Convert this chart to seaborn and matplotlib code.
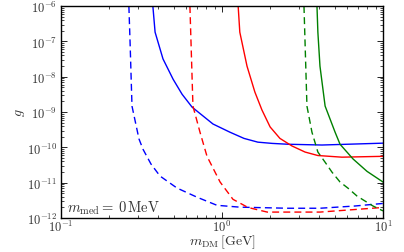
import numpy as np
import pandas as pd
import seaborn as sns
import matplotlib
matplotlib.use("Agg")
import matplotlib.pyplot as plt

# ---- data ----
blue_dash_m = [0.264, 0.269, 0.276, 0.305, 0.323, 0.362, 0.412, 0.525, 0.700, 0.931, 1.29, 2.57, 4.06, 6.70, 10.0]
blue_dash_g = [1e-6, 7.4e-8, 1.48e-9, 1.74e-10, 8.9e-11, 3.4e-11, 1.55e-11, 7.1e-12, 3.9e-12, 2.3e-12, 2.04e-12, 1.9e-12, 1.9e-12, 2.2e-12, 2.6e-12]

blue_solid_m = [0.372, 0.384, 0.430, 0.497, 0.565, 0.652, 0.879, 1.12, 1.37, 1.67, 2.05, 2.57, 4.18, 10.0]
blue_solid_g = [1e-6, 1.83e-7, 3.2e-8, 8.5e-9, 3.2e-9, 1.38e-9, 4.6e-10, 2.7e-10, 1.8e-10, 1.41e-10, 1.3e-10, 1.23e-10, 1.17e-10, 1.32e-10]

red_dash_m = [0.632, 0.660, 0.730, 0.807, 0.973, 1.17, 1.45, 1.91, 4.06, 10.0]
red_dash_g = [1e-6, 1.48e-9, 2.7e-10, 5.6e-11, 1.05e-11, 3.4e-12, 2.0e-12, 1.48e-12, 1.48e-12, 2.0e-12]

red_solid_m = [1.26, 1.29, 1.43, 1.60, 1.77, 1.99, 2.29, 2.72, 3.28, 3.94, 5.56, 10.0]
red_solid_g = [1e-6, 1.83e-7, 2.0e-8, 3.7e-9, 1.15e-9, 3.8e-10, 1.8e-10, 1.1e-10, 7.4e-11, 5.9e-11, 5.3e-11, 5.6e-11]

green_dash_m = [3.23, 3.37, 3.62, 3.94, 4.49, 4.82, 5.41, 6.07, 6.90, 8.67, 10.0]
green_dash_g = [1e-6, 1.48e-9, 2.7e-10, 7.4e-11, 3.2e-11, 2.0e-11, 1.05e-11, 7.0e-12, 4.2e-12, 2.2e-12, 1.6e-12]

green_solid_m = [3.89, 3.94, 4.06, 4.37, 5.04, 5.41, 6.52, 7.96, 10.0]
green_solid_g = [1e-6, 1.83e-7, 2.0e-8, 1.48e-9, 2.7e-10, 1.23e-10, 4.7e-11, 2.1e-11, 1.05e-11]

curves = [
    ("blue dashed", blue_dash_m, blue_dash_g, "#0000ff", "--"),
    ("blue solid", blue_solid_m, blue_solid_g, "#0000ff", "-"),
    ("red dashed", red_dash_m, red_dash_g, "#ff0000", "--"),
    ("red solid", red_solid_m, red_solid_g, "#ff0000", "-"),
    ("green dashed", green_dash_m, green_dash_g, "#008000", "--"),
    ("green solid", green_solid_m, green_solid_g, "#008000", "-"),
]

sns.set_style("ticks")
plt.rcParams.update({
    "mathtext.fontset": "cm",
    "font.family": ["serif"],
    "font.serif": ["cmr10", "DejaVu Serif"],
    "axes.formatter.use_mathtext": True,
    "xtick.direction": "in",
    "ytick.direction": "in",
    "xtick.top": True,
    "ytick.right": True,
    "xtick.major.size": 4,
    "ytick.major.size": 4,
    "xtick.minor.size": 2,
    "ytick.minor.size": 2,
    "xtick.major.width": 0.6,
    "ytick.major.width": 0.6,
    "xtick.minor.width": 0.5,
    "ytick.minor.width": 0.5,
    "axes.linewidth": 1.0,
    "axes.edgecolor": "black",
    "xtick.color": "black",
    "ytick.color": "black",
    "xtick.labelcolor": "#333333",
    "ytick.labelcolor": "#333333",
})

fig, ax = plt.subplots(figsize=(4.04, 2.53), dpi=100)
fig.subplots_adjust(left=0.151, right=0.948, top=0.972, bottom=0.134)

for name, m, g, col, ls in curves:
    df = pd.DataFrame({"m": m, "g": g})
    sns.lineplot(data=df, x="m", y="g", ax=ax, color=col, linestyle=ls,
                 linewidth=1.0, sort=False, estimator=None)
    if ls == "--":
        ax.lines[-1].set_dashes((5, 3))

ax.set_xscale("log")
ax.set_yscale("log")
ax.set_xlim(0.1, 10)
ax.set_ylim(1e-12, 1e-6)
ax.xaxis.set_major_locator(matplotlib.ticker.LogLocator(base=10, numticks=10))
ax.xaxis.set_minor_locator(matplotlib.ticker.LogLocator(base=10, subs=np.arange(2, 10), numticks=20))
ax.yaxis.set_major_locator(matplotlib.ticker.LogLocator(base=10, numticks=10))
ax.yaxis.set_minor_locator(matplotlib.ticker.LogLocator(base=10, subs=np.arange(2, 10), numticks=20))
ax.yaxis.set_minor_formatter(matplotlib.ticker.NullFormatter())
ax.xaxis.set_minor_formatter(matplotlib.ticker.NullFormatter())
ax.tick_params(which="both", top=True, right=True)
ax.tick_params(axis="y", labelsize=9, pad=3)
ax.tick_params(axis="x", labelsize=9, pad=0.5)

ax.set_xlabel(r"$m_{\rm DM}\,[{\rm GeV}]$", fontsize=10, color="#333333", labelpad=-1)
ax.set_ylabel(r"$g$", fontsize=10, color="#333333", labelpad=0)
ax.text(0.019, 0.03, r"$m_{\rm med}=\,0\,{\rm MeV}$", transform=ax.transAxes,
        fontsize=10.5, color="#333333", va="baseline", ha="left")

fig.savefig("out.png", dpi=100)
